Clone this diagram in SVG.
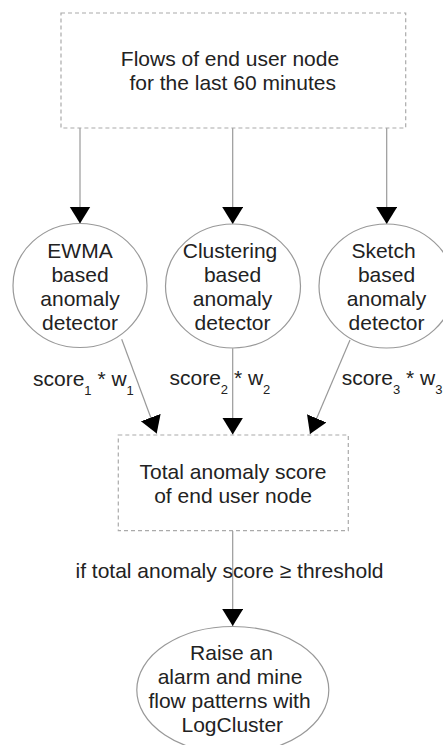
<svg xmlns="http://www.w3.org/2000/svg" width="443" height="745" viewBox="0 0 443 745">
<style>
.t{font-family:"Liberation Sans",Arial,sans-serif;font-size:21px;fill:#222;text-anchor:middle}
.l{font-family:"Liberation Sans",Arial,sans-serif;font-size:21px;fill:#222}
.s{font-size:13px}
.box{fill:#fff;stroke:#aaa;stroke-width:1.2;stroke-dasharray:4 3}
.ell{fill:#fff;stroke:#999;stroke-width:1.2}
.c{stroke:#999;stroke-width:1.2;fill:none;marker-end:url(#ah)}
</style>
<defs>
<marker id="ah" markerUnits="userSpaceOnUse" markerWidth="18" markerHeight="22" viewBox="0 0 18 22" refX="17" refY="10.5" orient="auto">
<path d="M0,0 L17,10.5 L0,21 z" fill="#000"/>
</marker>
</defs>
<rect width="443" height="745" fill="#fff"/>
<g id="connectors">
<line class="c" x1="80" y1="128" x2="80" y2="223.5"/>
<line class="c" x1="232.7" y1="128" x2="232.7" y2="224"/>
<line class="c" x1="386.7" y1="128" x2="386.7" y2="224"/>
<line class="c" x1="121.7" y1="339.3" x2="156.7" y2="433.5"/>
<line class="c" x1="232.7" y1="348.3" x2="232.7" y2="434.5"/>
<line class="c" x1="350" y1="340" x2="310" y2="434"/>
<line class="c" x1="232.7" y1="531" x2="232.7" y2="626"/>
<text class="l" x="33" y="386">score<tspan class="s" dy="9">1</tspan><tspan dy="-9" xml:space="preserve"> * w</tspan><tspan class="s" dy="9">1</tspan></text>
<text class="l" x="169.5" y="385">score<tspan class="s" dy="9">2</tspan><tspan dy="-9" xml:space="preserve"> * w</tspan><tspan class="s" dy="9">2</tspan></text>
<text class="l" x="341.7" y="385">score<tspan class="s" dy="9">3</tspan><tspan dy="-9" xml:space="preserve"> * w</tspan><tspan class="s" dy="9">3</tspan></text>
<text class="t" x="229.5" y="578">if total anomaly score ≥ threshold</text>
</g>
<g id="flows">
<rect class="box" x="61" y="13" width="344.7" height="115"/>
<text class="t" x="230" y="65.5">Flows of end user node</text>
<text class="t" x="232.7" y="90">for the last 60 minutes</text>
</g>
<g id="ewma">
<ellipse class="ell" cx="80" cy="285.5" rx="67" ry="62"/>
<text class="t" x="80" y="257.5">EWMA</text>
<text class="t" x="80" y="281.7">based</text>
<text class="t" x="80" y="305.5">anomaly</text>
<text class="t" x="80" y="329.5">detector</text>
</g>
<g id="clustering">
<ellipse class="ell" cx="233" cy="286" rx="67.5" ry="62"/>
<text class="t" x="230" y="257.5">Clustering</text>
<text class="t" x="232.5" y="281.7">based</text>
<text class="t" x="232.5" y="305.5">anomaly</text>
<text class="t" x="232.5" y="329.5">detector</text>
</g>
<g id="sketch">
<ellipse class="ell" cx="386.5" cy="286" rx="67.5" ry="62"/>
<text class="t" x="383.5" y="257.5">Sketch</text>
<text class="t" x="386.5" y="281.7">based</text>
<text class="t" x="386.5" y="305.5">anomaly</text>
<text class="t" x="386.5" y="329.5">detector</text>
</g>
<g id="total">
<rect class="box" x="118.3" y="435" width="230" height="95.7"/>
<text class="t" x="233" y="478.5">Total anomaly score</text>
<text class="t" x="233" y="502.7">of end user node</text>
</g>
<g id="alarm">
<ellipse class="ell" cx="232.8" cy="690" rx="96" ry="63.5"/>
<text class="t" x="231.5" y="660">Raise an</text>
<text class="t" x="230" y="684">alarm and mine</text>
<text class="t" x="229.5" y="708.3">flow patterns with</text>
<text class="t" x="232.3" y="732.3">LogCluster</text>
</g>
</svg>
